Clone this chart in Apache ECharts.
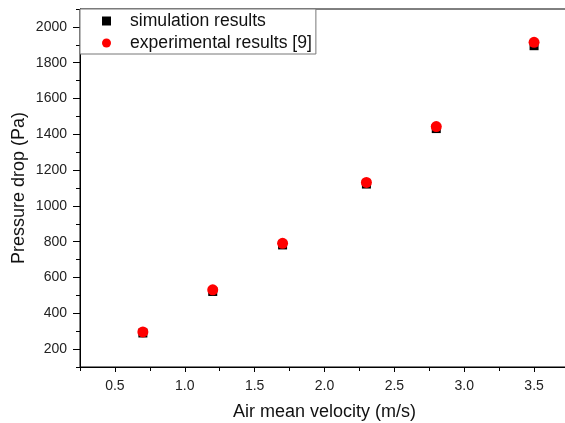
<!DOCTYPE html>
<html>
<head>
<meta charset="utf-8">
<script src="https://cdn.jsdelivr.net/npm/echarts@6/dist/echarts.min.js"></script>
<style>html,body{margin:0;padding:0;background:#fff}#c{width:565px;height:423px}</style>
</head>
<body>
<div id="c"></div>
<script>
const velocity = [0.7, 1.2, 1.7, 2.3, 2.8, 3.5];
const simulation = [290, 522, 782, 1122, 1432, 1895];
const experimental = [296, 531, 791, 1131, 1443, 1914];
const xMajorTicks = [0.5, 1.0, 1.5, 2.0, 2.5, 3.0, 3.5];
const xMinorTicks = [0.25, 0.75, 1.25, 1.75, 2.25, 2.75, 3.25, 3.75];
const yMajorTicks = [200, 400, 600, 800, 1000, 1200, 1400, 1600, 1800, 2000];
const yMinorTicks = [100, 300, 500, 700, 900, 1100, 1300, 1500, 1700, 1900, 2100];
const seriesNames = ['simulation results', 'experimental results [9]'];
const xName = 'Air mean velocity (m/s)';
const yName = 'Pressure drop (Pa)';

const FONT = 'Liberation Sans, Arial, sans-serif';
const chart = echarts.init(document.getElementById('c'), null, {renderer: 'canvas'});
const simData = velocity.map((v, i) => [v, simulation[i]]);
const expData = velocity.map((v, i) => [v, experimental[i]]);

chart.setOption({
  animation: false,
  backgroundColor: '#fff',
  grid: {left: 80, top: 9, right: -4, bottom: 56, containLabel: false, outerBoundsMode: 'none',
    show: true, borderColor: '#000', borderWidth: 1, backgroundColor: 'transparent'},
  legend: {
    orient: 'vertical', left: 80, top: 9,
    padding: [2, 4, 1, 22],
    itemGap: 2,
    itemWidth: 9, itemHeight: 9,
    borderColor: '#777', borderWidth: 1,
    backgroundColor: '#fff',
    textStyle: {fontFamily: FONT, fontSize: 17.6, color: '#111', lineHeight: 20, padding: [0, 0, 0, 14]},
    data: [
      {name: seriesNames[0], icon: 'rect', itemStyle: {color: '#000'}},
      {name: seriesNames[1], icon: 'circle', itemStyle: {color: '#ff0000'}}
    ]
  },
  xAxis: [{
    type: 'value', min: 0.25, max: 3.75, position: 'bottom',
    name: xName, nameLocation: 'middle', nameGap: 36, nameMoveOverlap: false,
    nameTextStyle: {fontFamily: FONT, fontSize: 18, color: '#111'},
    axisLine: {show: true, onZero: false, lineStyle: {color: '#000', width: 1}},
    axisTick: {show: true, inside: false, length: 5, customValues: xMajorTicks, lineStyle: {color: '#000'}},
    axisLabel: {show: true, margin: 12, fontFamily: FONT, fontSize: 14, color: '#222', customValues: xMajorTicks,
      formatter: v => v.toFixed(1)},
    splitLine: {show: false}
  }, {
    type: 'value', min: 0.25, max: 3.75, position: 'bottom',
    axisLine: {show: false, onZero: false},
    axisTick: {show: true, inside: false, length: 4, customValues: xMinorTicks, lineStyle: {color: '#000'}},
    axisLabel: {show: false},
    splitLine: {show: false}
  }],
  yAxis: [{
    type: 'value', min: 100, max: 2100, position: 'left',
    name: yName, nameLocation: 'middle', nameGap: 52, nameMoveOverlap: false,
    nameTextStyle: {fontFamily: FONT, fontSize: 18, color: '#111'},
    axisLine: {show: true, onZero: false, lineStyle: {color: '#000', width: 1}},
    axisTick: {show: true, inside: false, length: 7, customValues: yMajorTicks, lineStyle: {color: '#000'}},
    axisLabel: {show: true, margin: 13, fontFamily: FONT, fontSize: 14, color: '#222', customValues: yMajorTicks,
      formatter: v => String(v)},
    splitLine: {show: false}
  }, {
    type: 'value', min: 100, max: 2100, position: 'left',
    axisLine: {show: false, onZero: false},
    axisTick: {show: true, inside: false, length: 4, customValues: yMinorTicks, lineStyle: {color: '#000'}},
    axisLabel: {show: false},
    splitLine: {show: false}
  }],
  series: [{
    name: seriesNames[0], type: 'scatter', xAxisIndex: 0, yAxisIndex: 0,
    symbol: 'rect', symbolSize: 9, itemStyle: {color: '#000', opacity: 1}, data: simData, z: 2
  }, {
    name: seriesNames[1], type: 'scatter', xAxisIndex: 0, yAxisIndex: 0,
    symbol: 'circle', symbolSize: 11, itemStyle: {color: '#ff0000', opacity: 1}, data: expData, z: 3
  }]
});
</script>
</body>
</html>
